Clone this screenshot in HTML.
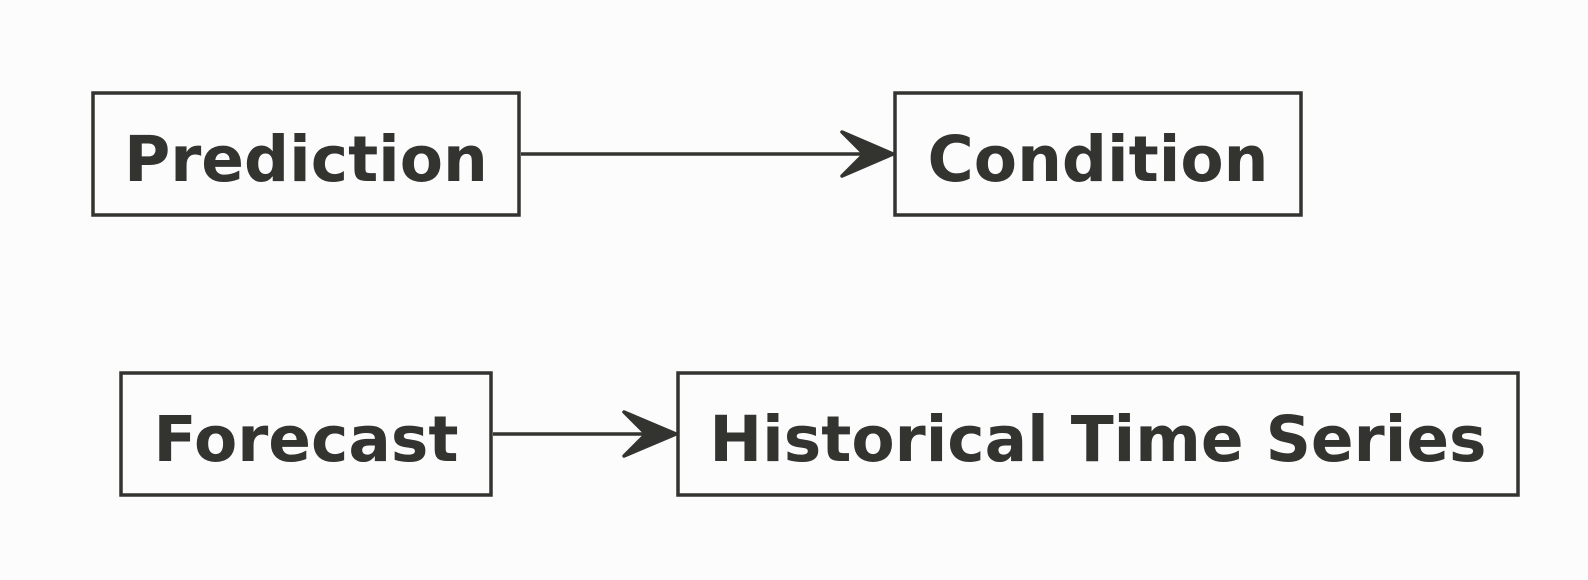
<!DOCTYPE html>
<html><head><meta charset="utf-8"><style>
html,body{margin:0;padding:0;background:#fcfcfc;}
svg{display:block}
text{font-family:"DejaVu Sans","Liberation Sans",sans-serif;font-weight:bold;font-size:63px;fill:#333330;text-anchor:middle}
</style></head><body>
<svg width="1588" height="580" viewBox="0 0 1588 580">
<rect width="1588" height="580" fill="#fcfcfc"/>
<g fill="none" stroke="#333330" stroke-width="3.5">
<rect x="93" y="93" width="426" height="122"/>
<rect x="895" y="93" width="406" height="122"/>
<rect x="121" y="373" width="370" height="122"/>
<rect x="678" y="373" width="840" height="122"/>
<line x1="521" y1="154" x2="890" y2="154"/>
<line x1="493" y1="434" x2="673" y2="434"/>
</g>
<g fill="#333330" stroke="#333330" stroke-width="3.5" stroke-linejoin="round">
<polygon points="842,132 893,154 842,176 864,154"/>
<polygon points="624,412 676,434 624,456 646,434"/>
</g>
<text x="306" y="181">Prediction</text>
<text x="1098" y="181">Condition</text>
<text x="306" y="461">Forecast</text>
<text x="1098" y="461">Historical Time Series</text>
</svg>
</body></html>
